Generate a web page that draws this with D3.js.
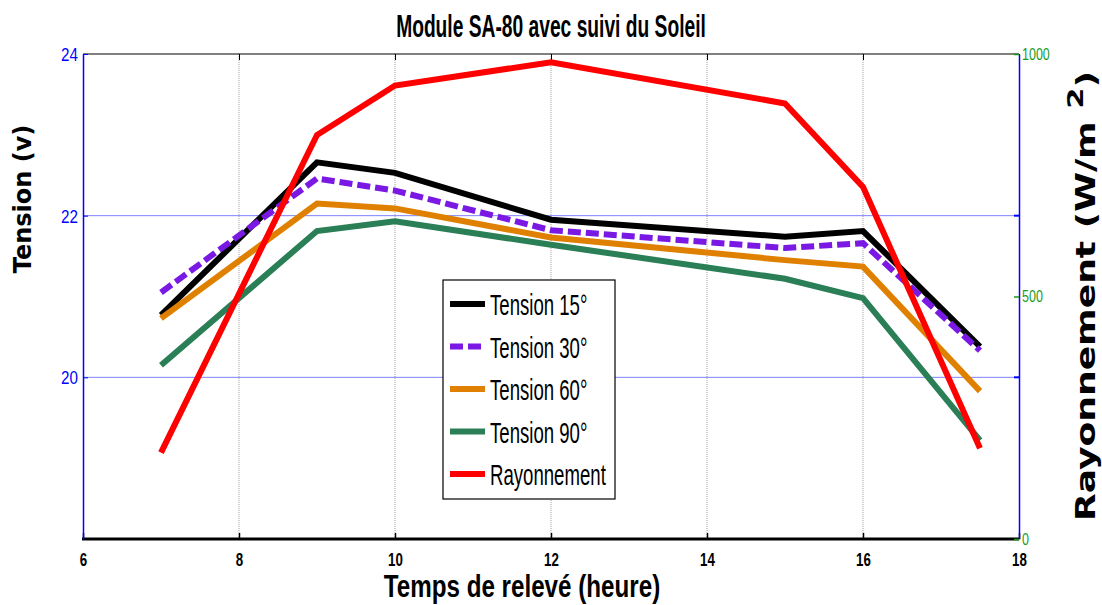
<!DOCTYPE html>
<html lang="fr">
<head>
<meta charset="UTF-8">
<title>Module SA-80 avec suivi du Soleil</title>
<script src="https://d3js.org/d3.v7.min.js"></script>
<style>
    body { margin: 0; background: white; overflow: hidden; }
    svg text { font-family: "Liberation Sans Narrow", "Arial Narrow", "Liberation Sans", Arial, sans-serif; }
    .big { font-family: "DejaVu Sans", Verdana, sans-serif !important; font-weight: bold; }
</style>
</head>
<body>
<svg id="chart"></svg>
<script>
// data
var hours = [7, 9, 10, 12, 15, 16, 17.5];
var tension15 = [20.77, 22.66, 22.53, 21.95, 21.74, 21.81, 20.38];
var tension30 = [21.05, 22.46, 22.31, 21.82, 21.60, 21.66, 20.33];
var tension60 = [20.73, 22.15, 22.09, 21.73, 21.45, 21.37, 19.83];
var tension90 = [20.15, 21.81, 21.93, 21.64, 21.22, 20.98, 19.22];
var rayonnement = [178, 833, 935, 983, 898, 726, 187];

var xTicks = [6, 8, 10, 12, 14, 16, 18];
var leftTicks = [20, 22, 24];
var rightTicks = [0, 500, 1000];

var series = [
    { name: "Tension 15\u00b0", values: tension15, color: "#000000", dash: null, axis: "left" },
    { name: "Tension 30\u00b0", values: tension30, color: "#7a18e4", dash: "13,5", axis: "left" },
    { name: "Tension 60\u00b0", values: tension60, color: "#e08000", dash: null, axis: "left" },
    { name: "Tension 90\u00b0", values: tension90, color: "#2a7f56", dash: null, axis: "left" },
    { name: "Rayonnement", values: rayonnement, color: "#ff0000", dash: null, axis: "right" }
];

var W = 1102, H = 605;
var m = { left: 83, right: 1019, top: 54, bottom: 539 };

var svg = d3.select("#chart").attr("width", W).attr("height", H);

var x = d3.scaleLinear().domain([6, 18]).range([m.left, m.right]);
var yL = d3.scaleLinear().domain([18, 24]).range([m.bottom, m.top]);
var yR = d3.scaleLinear().domain([0, 1000]).range([m.bottom, m.top]);

// squeeze text horizontally (the figure's fonts are tall and narrow)
function squeeze(sel, k) {
    sel.each(function () {
        var w = this.getComputedTextLength();
        d3.select(this).attr("textLength", w * k).attr("lengthAdjust", "spacingAndGlyphs");
    });
}

// vertical dotted grid
svg.append("g").selectAll("line")
    .data(xTicks.slice(1, -1))
    .enter().append("line")
    .attr("x1", d => x(d)).attr("x2", d => x(d))
    .attr("y1", m.top).attr("y2", m.bottom)
    .attr("stroke", "#888").attr("stroke-width", 0.8)
    .attr("stroke-dasharray", "1,1");

// horizontal blue grid
svg.append("g").selectAll("line")
    .data([20, 22])
    .enter().append("line")
    .attr("x1", m.left).attr("x2", m.right)
    .attr("y1", d => yL(d)).attr("y2", d => yL(d))
    .attr("stroke", "#8080ff").attr("stroke-width", 1);

// frame
svg.append("line").attr("x1", m.left).attr("x2", m.right).attr("y1", m.top).attr("y2", m.top)
    .attr("stroke", "#000").attr("stroke-width", 1.2);
svg.append("line").attr("x1", m.left - 1).attr("x2", m.right).attr("y1", m.bottom).attr("y2", m.bottom)
    .attr("stroke", "#000").attr("stroke-width", 3);

// x axis ticks (bottom and top, inward)
var xAxisB = d3.axisBottom(x).tickValues(xTicks).tickSize(-6).tickSizeOuter(0).tickFormat(d3.format("d"));
var gxb = svg.append("g").attr("transform", "translate(0," + m.bottom + ")").call(xAxisB);
gxb.select(".domain").remove();
gxb.selectAll(".tick line").attr("stroke", "#000").attr("stroke-width", 1.5);
gxb.selectAll(".tick text").attr("y", 27).attr("dy", 0)
    .attr("font-size", 19).attr("font-weight", "bold").attr("fill", "#000")
    .style("font-family", "'Liberation Sans Narrow', 'Arial Narrow', sans-serif")
    .call(squeeze, 0.7);

var xAxisT = d3.axisTop(x).tickValues(xTicks).tickSize(-6).tickSizeOuter(0).tickFormat("");
var gxt = svg.append("g").attr("transform", "translate(0," + m.top + ")").call(xAxisT);
gxt.select(".domain").remove();
gxt.selectAll(".tick line").attr("stroke", "#000").attr("stroke-width", 1);

// left axis (blue)
var yAxisL = d3.axisLeft(yL).tickValues(leftTicks).tickSize(-5).tickSizeOuter(0).tickFormat(d3.format("d"));
var gl = svg.append("g").attr("transform", "translate(" + m.left + ",0)").call(yAxisL);
gl.select(".domain").attr("stroke", "#0000ff").attr("stroke-width", 1.5);
gl.selectAll(".tick line").attr("stroke", "#0000ff");
gl.selectAll(".tick text").attr("x", -5).attr("dy", "0.35em")
    .attr("font-size", 19).attr("fill", "#0000ff")
    .call(squeeze, 0.8);

// right axis (blue line, green ticks)
var yAxisR = d3.axisRight(yR).tickValues(rightTicks).tickSize(-5).tickSizeOuter(0).tickFormat(d3.format("d"));
var gr = svg.append("g").attr("transform", "translate(" + m.right + ",0)").call(yAxisR);
gr.select(".domain").attr("stroke", "#0000ff").attr("stroke-width", 1.5);
gr.selectAll(".tick line").attr("stroke", "#1a9a1a").attr("stroke-width", 1.5);
gr.selectAll(".tick text").attr("x", 3).attr("dy", "0.32em")
    .attr("font-size", 16).attr("fill", "#1a9a1a")
    .call(squeeze, 0.78);
// small blue marks of the left grid on the right side
svg.append("g").selectAll("line").data([20, 22]).enter().append("line")
    .attr("x1", m.right - 5).attr("x2", m.right)
    .attr("y1", d => yL(d)).attr("y2", d => yL(d))
    .attr("stroke", "#0000ff").attr("stroke-width", 2);

// lines
var lineL = d3.line().x((d, i) => x(hours[i])).y(d => yL(d));
var lineR = d3.line().x((d, i) => x(hours[i])).y(d => yR(d));

svg.append("g").selectAll("path")
    .data(series)
    .enter().append("path")
    .attr("d", d => d.axis === "left" ? lineL(d.values) : lineR(d.values))
    .attr("fill", "none")
    .attr("stroke", d => d.color)
    .attr("stroke-width", 6)
    .attr("stroke-linejoin", "miter")
    .attr("stroke-dasharray", d => d.dash);

// legend
var legX = 443, legY = 280, legW = 172, legH = 219, rowH = 42.5;
var leg = svg.append("g").attr("transform", "translate(" + legX + "," + legY + ")");
leg.append("rect").attr("width", legW).attr("height", legH)
    .attr("fill", "#fff").attr("stroke", "#000").attr("stroke-width", 1.2);
var rows = leg.selectAll("g.row").data(series).enter().append("g")
    .attr("class", "row")
    .attr("transform", (d, i) => "translate(0," + (24 + i * rowH) + ")");
rows.append("line")
    .attr("x1", 7).attr("x2", 42).attr("y1", 0).attr("y2", 0)
    .attr("stroke", d => d.color).attr("stroke-width", 6)
    .attr("stroke-dasharray", d => d.dash);
rows.append("text")
    .attr("x", 47).attr("y", 11)
    .attr("font-size", 30).attr("fill", "#000")
    .text(d => d.name)
    .call(squeeze, 0.62);

// title
svg.append("text")
    .attr("x", 551).attr("y", 37)
    .attr("text-anchor", "middle")
    .attr("font-size", 31).attr("font-weight", "bold")
    .text("Module SA-80 avec suivi du Soleil")
    .call(squeeze, 0.62);

// x label
svg.append("text")
    .attr("x", 522).attr("y", 597)
    .attr("text-anchor", "middle")
    .attr("font-size", 31).attr("font-weight", "bold")
    .text("Temps de relev\u00e9 (heure)")
    .call(squeeze, 0.78);

// left label
svg.append("text")
    .attr("class", "big")
    .attr("transform", "translate(31,199) rotate(-90)")
    .attr("text-anchor", "middle")
    .attr("font-size", 24)
    .text("Tension (v)");

// right label
var rl = svg.append("text")
    .attr("class", "big")
    .attr("transform", "translate(1095,296) rotate(-90)")
    .attr("text-anchor", "middle")
    .attr("font-size", 26);
rl.append("tspan").text("Rayonnement (W/m ");
rl.append("tspan").attr("dy", -12).attr("font-size", 22).text("2");
rl.append("tspan").attr("dy", 12).text(")");
rl.attr("textLength", 450).attr("lengthAdjust", "spacingAndGlyphs");
</script>
</body>
</html>
